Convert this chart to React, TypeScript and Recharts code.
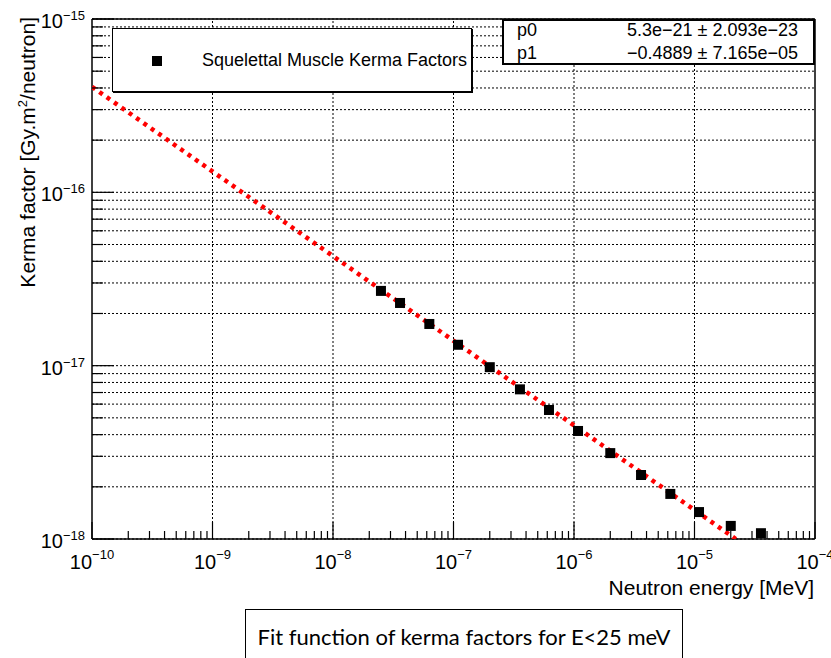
import React from 'react';
import {
  ScatterChart,
  Scatter,
  XAxis,
  YAxis,
  ZAxis,
  CartesianGrid,
  ReferenceLine,
} from 'recharts';

// measured kerma factors (E in MeV, K in Gy.m2/neutron)
const energies = [
  2.5e-8, 3.6e-8, 6.3e-8, 1.09e-7, 2.0e-7, 3.56e-7, 6.2e-7,
  1.08e-6, 2.0e-6, 3.6e-6, 6.3e-6, 1.09e-5, 2.0e-5, 3.56e-5,
];
const kerma = [
  2.7e-17, 2.3e-17, 1.74e-17, 1.32e-17, 9.8e-18, 7.3e-18, 5.55e-18,
  4.2e-18, 3.13e-18, 2.34e-18, 1.82e-18, 1.43e-18, 1.19e-18, 1.08e-18,
];

// fit line p0*E^p1, straight on log-log, read at its two ends
const fitEnergies = [1e-10, 2.2e-5];
const fitKerma = [4.06e-16, 1.0e-18];

const xDecades = [-10, -9, -8, -7, -6, -5, -4];
const yDecades = [-18, -17, -16, -15];
const minorSteps = [2, 3, 4, 5, 6, 7, 8, 9];

const legendLabel = 'Squelettal Muscle Kerma Factors';
const statRows = [
  ['p0', '5.3e\u221221 \u00b1 2.093e\u221223'],
  ['p1', '\u22120.4889 \u00b1 7.165e\u221205'],
];
const caption = 'Fit function of kerma factors for E<25 meV';

const points = energies.map((e, i) => ({ x: e, y: kerma[i] }));
const fit = fitEnergies.map((e, i) => ({ x: e, y: fitKerma[i] }));

const withMinors = (decs: number[]) => {
  const out: number[] = [];
  decs.forEach((d, i) => {
    out.push(Math.pow(10, d));
    if (i < decs.length - 1) minorSteps.forEach((m) => out.push(m * Math.pow(10, d)));
  });
  return out;
};
const xTicks = withMinors(xDecades);
const yTicks = withMinors(yDecades);

const FONT = '"Liberation Sans", Arial, sans-serif';
const MINUS = '\u2212';

const exponentOf = (v: number) => {
  const e = Math.log10(v);
  return Math.abs(e - Math.round(e)) < 1e-6 ? Math.round(e) : null;
};

function XTick(props: any) {
  const { x, y, payload } = props;
  const e = exponentOf(payload.value);
  return (
    <g>
      <line x1={x} x2={x} y1={y} y2={y - (e !== null ? 17 : 8)} stroke="#000" strokeWidth={1.2} />
      {e !== null && (
        <text x={x} y={y + 30} textAnchor="middle" fontSize={20} fontFamily={FONT} fill="#000">
          <tspan>10</tspan>
          <tspan dy={-10} fontSize={13}>{MINUS + Math.abs(e)}</tspan>
        </text>
      )}
    </g>
  );
}

function YTick(props: any) {
  const { x, y, payload } = props;
  const e = exponentOf(payload.value);
  return (
    <g>
      <line x1={x} x2={x + (e !== null ? 22 : 11)} y1={y} y2={y} stroke="#000" strokeWidth={1.2} />
      {e !== null && (
        <text x={x - 7} y={y + 9} textAnchor="end" fontSize={20} fontFamily={FONT} fill="#000">
          <tspan>10</tspan>
          <tspan dy={-8} fontSize={13}>{MINUS + Math.abs(e)}</tspan>
        </text>
      )}
    </g>
  );
}

const SquareDot = (p: any) => (
  <rect x={p.cx - 5} y={p.cy - 5} width={10} height={10} fill="#000" />
);

export default function App() {
  return (
    <div style={{ position: 'absolute', left: 0, top: 0, width: 831, height: 658, background: '#fff' }}>
      <ScatterChart width={831} height={658} margin={{ top: 19, right: 16, bottom: 79, left: 0 }}>
        <CartesianGrid vertical={false} stroke="#000" strokeDasharray="2 2" />
        {xDecades.slice(1, -1).map((d) => (
          <ReferenceLine key={d} x={Math.pow(10, d)} stroke="#000" strokeDasharray="2 2" />
        ))}
        <ReferenceLine y={1e-15} stroke="#000" strokeWidth={1.5} />
        <ReferenceLine x={1e-4} stroke="#000" strokeWidth={1.5} />
        <XAxis
          dataKey="x"
          type="number"
          scale="log"
          domain={[1e-10, 1e-4]}
          ticks={xTicks}
          interval={0}
          allowDataOverflow
          height={40}
          tickSize={0}
          tickMargin={0}
          tickLine={false}
          tick={<XTick />}
          axisLine={{ stroke: '#000', strokeWidth: 1.5 }}
          label={{
            content: (p: any) => (
              <text
                x={p.viewBox.x + p.viewBox.width - 1}
                y={p.viewBox.y + 56}
                textAnchor="end"
                fontSize={21}
                fontFamily={FONT}
                fill="#000"
              >
                Neutron energy [MeV]
              </text>
            ),
          }}
        />
        <YAxis
          dataKey="y"
          type="number"
          scale="log"
          domain={[1e-18, 1e-15]}
          ticks={yTicks}
          interval={0}
          allowDataOverflow
          width={92}
          tickSize={0}
          tickMargin={0}
          tickLine={false}
          tick={<YTick />}
          axisLine={{ stroke: '#000', strokeWidth: 1.5 }}
          label={{
            content: (p: any) => (
              <text
                transform={`translate(${p.viewBox.x + 35},${p.viewBox.y - 2}) rotate(-90)`}
                textAnchor="end"
                fontSize={21}
                fontFamily={FONT}
                fill="#000"
              >
                Kerma factor [Gy.m
                <tspan dy={-8} fontSize={13}>2</tspan>
                <tspan dy={8}>/neutron]</tspan>
              </text>
            ),
          }}
        />
        <ZAxis range={[100, 100]} />
        <Scatter
          data={fit}
          isAnimationActive={false}
          shape={() => <g />}
          line={{ stroke: '#ff0000', strokeWidth: 4.5, strokeDasharray: '4 5' }}
        />
        <Scatter data={points} isAnimationActive={false} shape={SquareDot} fill="#000" />
      </ScatterChart>

      {/* legend */}
      <div
        style={{
          position: 'absolute', left: 112, top: 28, width: 360, height: 64,
          border: '1px solid #000', boxShadow: '1px 1px 0 #000', background: '#fff',
          fontFamily: FONT, fontSize: 18, boxSizing: 'border-box',
        }}
      >
        <div style={{ position: 'absolute', left: 39, top: 27, width: 10, height: 10, background: '#000' }} />
        <div style={{ position: 'absolute', left: 89, top: 21, whiteSpace: 'nowrap', lineHeight: '20px' }}>
          {legendLabel}
        </div>
      </div>

      {/* fit stats box */}
      <div
        style={{
          position: 'absolute', left: 502, top: 19, width: 313, height: 46,
          border: '2px solid #000', background: '#fff', boxSizing: 'border-box',
          fontFamily: FONT, fontSize: 18, lineHeight: '21px',
        }}
      >
        {statRows.map(([name, val], i) => (
          <div key={name} style={{ position: 'absolute', left: 13, right: 15, top: i * 23 - 1, display: 'flex', justifyContent: 'space-between' }}>
            <span>{name}</span>
            <span>{val}</span>
          </div>
        ))}
      </div>

      {/* caption */}
      <div
        style={{
          position: 'absolute', left: 245, top: 609, width: 438, height: 60,
          border: '1.5px solid #000', boxSizing: 'border-box', background: '#fff',
          fontFamily: 'Lato, "Open Sans", sans-serif', fontSize: 22,
          textAlign: 'center', paddingTop: 13,
        }}
      >
        {caption}
      </div>
    </div>
  );
}
